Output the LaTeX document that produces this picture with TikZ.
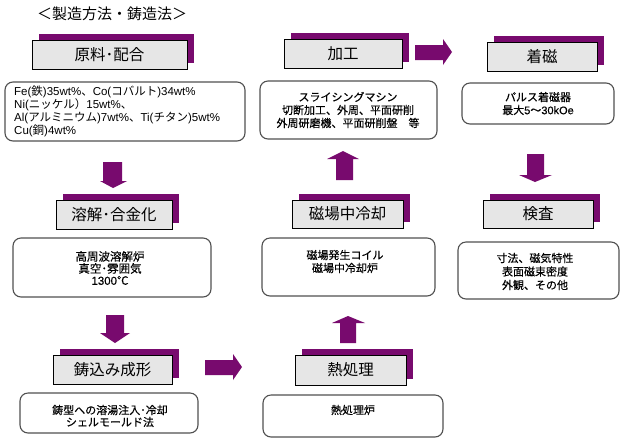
\documentclass[tikz,border=0pt]{standalone}
\usepackage{fontspec}
\setmainfont{Noto Sans CJK JP}
\newfontfamily\jpb{Noto Sans CJK JP}[FakeBold=0.3]
\newfontfamily\latn{Liberation Sans}
\newfontfamily\latb{Liberation Sans}[FakeBold=0.3]
\usetikzlibrary{shadows}
\definecolor{purp}{RGB}{120,10,110}
\definecolor{boxgray}{RGB}{230,230,230}
\definecolor{edgegray}{RGB}{80,80,80}
\begin{document}
\begin{tikzpicture}[x=1pt,y=-1pt,
 titlebox/.style={draw=black, line width=0.9pt, fill=boxgray, inner sep=0pt,
   font=\fontsize{15.5}{18}\selectfont,
   general shadow={fill=purp, shadow xshift=6.5pt, shadow yshift=6pt},
   general shadow={fill=black, shadow xshift=1.4pt, shadow yshift=-1.4pt}},
 infobox/.style={draw=edgegray, line width=1.1pt, rounded corners=8pt, inner sep=0pt},
 info/.style={font=\jpb\fontsize{11}{13}\selectfont, align=center, inner sep=0pt},
 arr/.style={fill=purp}]
\fill[white] (0,0) rectangle (623,440);
\useasboundingbox (0,0) rectangle (623,440);

% title
\node[font=\fontsize{15}{18}\selectfont, inner sep=0pt] (title) at (112,14) {＜製造方法・鋳造法＞};

% step boxes
\node[titlebox, minimum width=155pt, minimum height=29pt] (g1) at (109.5,54.5) {原料･配合};
\node[titlebox, minimum width=118pt, minimum height=29pt] (g2) at (343,53.5) {加工};
\node[titlebox, minimum width=110pt, minimum height=29pt] (g3) at (542,56.5) {着磁};
\node[titlebox, minimum width=116pt, minimum height=29pt] (g4) at (114,214.5) {溶解･合金化};
\node[titlebox, minimum width=111pt, minimum height=28pt] (g5) at (347.5,214) {磁場中冷却};
\node[titlebox, minimum width=110pt, minimum height=28pt] (g6) at (538,214) {検査};
\node[titlebox, minimum width=119pt, minimum height=29pt] (g7) at (112.5,369.5) {鋳込み成形};
\node[titlebox, minimum width=111pt, minimum height=30pt] (g8) at (350.5,370) {熱処理};

% info boxes
\node[infobox, minimum width=240pt, minimum height=59pt] (b1) at (125,111.5) {};
\node[infobox, minimum width=177pt, minimum height=58pt] (b2) at (348.5,110) {};
\node[infobox, minimum width=152pt, minimum height=41pt] (b3) at (538,103.5) {};
\node[infobox, minimum width=198pt, minimum height=59pt] (b4) at (112,267.5) {};
\node[infobox, minimum width=173pt, minimum height=58pt] (b5) at (348.5,267) {};
\node[infobox, minimum width=161pt, minimum height=57pt] (b6) at (538.5,270.5) {};
\node[infobox, minimum width=178pt, minimum height=40pt] (b7) at (109,413) {};
\node[infobox, minimum width=180pt, minimum height=42pt] (b8) at (353,416) {};

% info texts
\node[info, font=\fontsize{11.5}{11}\selectfont, align=left, anchor=west] (t1) at (14,111.5)
  {{\latn Fe(}鉄{\latn )35wt\%}、{\latn Co(}コバルト{\latn )34wt\%}\\
   {\latn Ni(}ニッケル）{\latn 15wt\%}、\\
   {\latn Al(}アルミニウム{\latn )7wt\%}、{\latn Ti(}チタン{\latn )5wt\%}\\
   {\latn Cu(}銅{\latn )4wt\%}};
\node[info] (t2) at (348,110) {スライシングマシン\\切断加工、外周、平面研削\\外周研磨機、平面研削盤　等};
\node[info] (t3) at (538,103.5) {パルス着磁器\\最大{\latb 5}～{\latb 30kOe}};
\node[info, font=\jpb\fontsize{11.5}{12}\selectfont] (t4) at (110,268) {高周波溶解炉\\真空･雰囲気\\{\latb 1300}℃};
\node[info] (t5) at (345,261.5) {磁場発生コイル\\磁場中冷却炉};
\node[info, font=\jpb\fontsize{11}{13.5}\selectfont] (t6) at (535,271.5) {寸法、磁気特性\\表面磁束密度\\外観、その他};
\node[info, font=\jpb\fontsize{11}{12}\selectfont] (t7) at (110,416) {鋳型への溶湯注入･冷却\\シェルモールド法};
\node[info] (t8) at (353,410) {熱処理炉};

% block arrows
\fill[arr] (103,162) -- (122,162) -- (122,181) -- (127,181) -- (113,188) -- (100,181) -- (103,181) -- cycle;
\fill[arr] (106,315) -- (124,315) -- (124,333) -- (130,333) -- (115,343) -- (100,333) -- (106,333) -- cycle;
\fill[arr] (205,360) -- (233,360) -- (233,354) -- (242,367) -- (233,380) -- (233,375) -- (205,375) -- cycle;
\fill[arr] (340,343) -- (340,323) -- (332,323) -- (348,316) -- (365,323) -- (356,323) -- (356,343) -- cycle;
\fill[arr] (336,180) -- (336,159) -- (327,159) -- (343,151) -- (359,159) -- (353,159) -- (353,180) -- cycle;
\fill[arr] (415,45) -- (443,45) -- (443,39) -- (452,52) -- (443,65) -- (443,60) -- (415,60) -- cycle;
\fill[arr] (527,154) -- (544,154) -- (544,175) -- (552,175) -- (535,182) -- (519,175) -- (527,175) -- cycle;
\end{tikzpicture}
\end{document}
